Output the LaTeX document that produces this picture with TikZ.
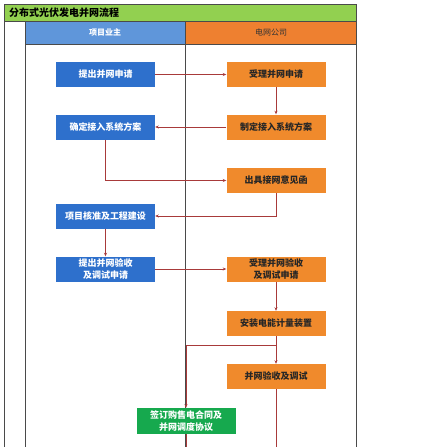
\documentclass[tikz,border=0pt]{standalone}
\usepackage{fontspec}
\setmainfont{Noto Sans CJK SC}
\usetikzlibrary{arrows.meta}
\definecolor{titlegreen}{HTML}{92D050}
\definecolor{hdrblue}{HTML}{5F96DA}
\definecolor{hdrorange}{HTML}{EE8030}
\definecolor{boxblue}{HTML}{2E70CC}
\definecolor{boxorange}{HTML}{F08A2C}
\definecolor{boxgreen}{HTML}{16A94E}
\definecolor{flowred}{HTML}{A83A3A}
\definecolor{laneline}{HTML}{4A4A4A}
\tikzset{
  x=1pt, y=-1pt,
  boxfont/.style={font=\fontsize{9}{11.5}\selectfont\bfseries},
  bluebox/.style={fill=boxblue, draw=none, minimum width=99pt, minimum height=25pt, text=white, boxfont, align=center, inner sep=0pt},
  orangebox/.style={fill=boxorange, draw=none, minimum width=99pt, minimum height=25pt, text=black!85, boxfont, align=center, inner sep=0pt},
  greenbox/.style={fill=boxgreen, draw=none, minimum width=99pt, minimum height=26pt, text=white, boxfont, align=center, inner sep=0pt},
  flow/.style={draw=flowred, line width=0.6pt, -{Stealth[length=3.5pt,width=3pt]}},
  flowline/.style={draw=flowred, line width=0.6pt},
  lane/.style={draw=laneline, line width=0.8pt},
}
\begin{document}
\begin{tikzpicture}
\useasboundingbox (0,0) rectangle (448,447);
% title and headers
\fill[titlegreen] (4,4) rectangle (356,21);
\fill[hdrblue] (25,21) rectangle (185.5,44);
\fill[hdrorange] (185.5,21) rectangle (356,44);
\draw[lane] (4,4) rectangle (356,21);
\draw[lane] (25,21) -- (25,44) (185.5,21) -- (185.5,44);
\draw[laneline, line width=0.6pt] (25,44) -- (356,44);
\node[anchor=west, font=\fontsize{10}{11}\selectfont\bfseries, inner sep=0pt] (title) at (9,12.5) {分布式光伏发电并网流程};
\node[font=\fontsize{8}{9}\selectfont\bfseries, text=white, inner sep=0pt] (h1) at (105,32.5) {项目业主};
\node[font=\fontsize{8}{9}\selectfont, text=black!80, inner sep=0pt] (h2) at (271,32.5) {电网公司};
% lane lines
\draw[lane] (4,21) -- (4,447);
\draw[lane] (25,44) -- (25,447);
\draw[lane] (185.5,44) -- (185.5,447);
\draw[lane] (356,21) -- (356,447);
% boxes
\node[bluebox] (b1) at (105.5,74.5) {提出并网申请};
\node[orangebox] (o1) at (276,74.5) {受理并网申请};
\node[orangebox] (o2) at (276,127) {制定接入系统方案};
\node[bluebox] (b2) at (105.5,127) {确定接入系统方案};
\node[orangebox] (o3) at (276,180.5) {出具接网意见函};
\node[bluebox] (b3) at (105.5,216) {项目核准及工程建设};
\node[bluebox] (b4) at (105.5,269) {提出并网验收\\及调试申请};
\node[orangebox] (o4) at (276,269) {受理并网验收\\及调试申请};
\node[orangebox] (o5) at (276,323.5) {安装电能计量装置};
\node[orangebox] (o6) at (276,376.5) {并网验收及调试};
\node[greenbox] (g1) at (186,421) {签订购售电合同及\\并网调度协议};
\coordinate (j1) at (276,345);
\coordinate (j2) at (186,345);
\coordinate (bot1) at (276,447);
\coordinate (bot2) at (186,447);
% connectors
\draw[flow] (b1) -- (o1);
\draw[flow] (o1) -- (o2);
\draw[flow] (o2) -- (b2);
\draw[flow] (b2.south) |- (o3.west);
\draw[flow] (o3.south) |- (b3.east);
\draw[flow] (b3) -- (b4);
\draw[flow] (b4) -- (o4);
\draw[flow] (o4) -- (o5);
\draw[flowline] (o5.south) -- (j1) -- (j2);
\draw[flow] (j1) -- (o6.north);
\draw[flow] (j2) -- (g1.north);
\draw[flowline] (o6.south) -- (bot1);
\draw[flowline] (g1.south) -- (bot2);
\end{tikzpicture}
\end{document}
